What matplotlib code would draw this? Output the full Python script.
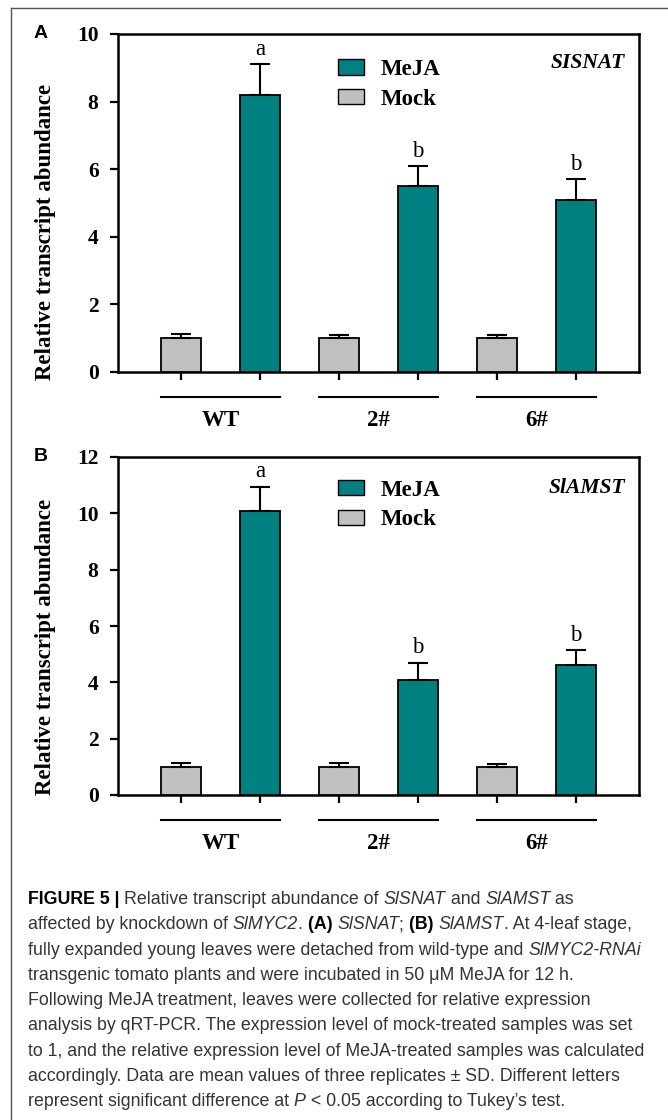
import numpy as np
import matplotlib
matplotlib.use('Agg')
import matplotlib.pyplot as plt
from matplotlib.patches import Patch
from matplotlib.lines import Line2D

# data
groups = ['WT', '2#', '6#']

mock_a = [1.0, 1.0, 1.0]
mock_a_err = [0.12, 0.09, 0.10]
meja_a = [8.2, 5.5, 5.1]
meja_a_err = [0.9, 0.6, 0.6]
letters_a = ['a', 'b', 'b']

mock_b = [1.0, 1.0, 1.0]
mock_b_err = [0.15, 0.13, 0.10]
meja_b = [10.1, 4.1, 4.6]
meja_b_err = [0.85, 0.6, 0.55]
letters_b = ['a', 'b', 'b']

caption = [
    [('FIGURE 5 | ', 'b'), ('Relative transcript abundance of ', 'n'), ('SlSNAT', 'i'),
     (' and ', 'n'), ('SlAMST', 'i'), (' as', 'n')],
    [('affected by knockdown of ', 'n'), ('SlMYC2', 'i'), ('. ', 'n'), ('(A) ', 'b'),
     ('SlSNAT', 'i'), ('; ', 'n'), ('(B) ', 'b'), ('SlAMST', 'i'), ('. At 4-leaf stage,', 'n')],
    [('fully expanded young leaves were detached from wild-type and ', 'n'), ('SlMYC2-RNAi', 'i')],
    [('transgenic tomato plants and were incubated in 50 \u03bcM MeJA for 12 h.', 'n')],
    [('Following MeJA treatment, leaves were collected for relative expression', 'n')],
    [('analysis by qRT-PCR. The expression level of mock-treated samples was set', 'n')],
    [('to 1, and the relative expression level of MeJA-treated samples was calculated', 'n')],
    [('accordingly. Data are mean values of three replicates \u00b1 SD. Different letters', 'n')],
    [('represent significant difference at ', 'n'), ('P', 'i'), (' < 0.05 according to Tukey\u2019s test.', 'n')],
]

SERIF = 'Liberation Serif'
SANS = 'Liberation Sans'
TEAL = '#008080'
GREY = '#c0c0c0'

W, H = 668, 1120
fig = plt.figure(figsize=(W / 100, H / 100), dpi=100)


def draw_panel(rect, mock, mock_err, meja, meja_err, letters, ymax, gene, letter, ylab_y, gene_y, leg_y):
    ax = fig.add_axes(rect)
    n = len(groups)
    x_mock = np.arange(n) * 2 + 1
    x_meja = np.arange(n) * 2 + 2
    ekw = dict(ecolor='black', elinewidth=1.5, capsize=7, capthick=1.5)
    ax.bar(x_mock, mock, width=0.5, color=GREY, edgecolor='black', linewidth=1.3,
           yerr=[np.zeros(n), mock_err], error_kw=ekw, zorder=3)
    ax.bar(x_meja, meja, width=0.5, color=TEAL, edgecolor='black', linewidth=1.3,
           yerr=[np.zeros(n), meja_err], error_kw=ekw, zorder=3)
    for xi, v, e, s in zip(x_meja, meja, meja_err, letters):
        ax.annotate(s, (xi, v + e), xytext=(0, 3), textcoords='offset points',
                    ha='center', va='bottom', fontsize=16.5, family=SERIF)

    ax.set_xlim(0.2, 6.8)
    ax.set_ylim(0, ymax)
    ax.set_yticks(np.arange(0, ymax + 1, 2))
    ax.set_xticks(np.concatenate([x_mock, x_meja]))
    ax.set_xticklabels([])
    ax.tick_params(axis='both', direction='out', length=6, width=1.6, pad=8)
    for lab in ax.get_yticklabels():
        lab.set_fontfamily(SERIF)
        lab.set_fontweight('bold')
        lab.set_fontsize(15.5)
    for sp in ax.spines.values():
        sp.set_linewidth(1.8)

    # group underlines and names
    tr = ax.get_xaxis_transform()
    for i, g in enumerate(groups):
        c = (x_mock[i] + x_meja[i]) / 2
        ax.add_line(Line2D([c - 0.75, c + 0.75], [-0.074, -0.074], transform=tr,
                           color='black', lw=1.5, clip_on=False))
        ax.text(c, -0.16, g, transform=tr, ha='center', va='baseline',
                fontsize=16.5, fontweight='bold', family=SERIF)

    ax.text(-0.14, ylab_y, 'Relative transcript abundance', transform=ax.transAxes,
            rotation=90, ha='center', va='center', fontsize=16.5, fontweight='bold', family=SERIF)
    ax.text(0.973, gene_y, gene, transform=ax.transAxes, ha='right', va='baseline',
            fontsize=15.5, fontweight='bold', style='italic', family=SERIF)

    handles = [Patch(facecolor=TEAL, edgecolor='black', linewidth=1.0, label='MeJA'),
               Patch(facecolor=GREY, edgecolor='black', linewidth=1.0, label='Mock')]
    ax.legend(handles=handles, loc='upper left', bbox_to_anchor=(0.40, leg_y),
              frameon=False, borderpad=0, handlelength=1.15, handleheight=0.65,
              handletextpad=0.7, labelspacing=0.38,
              prop=dict(family=SERIF, weight='bold', size=16.5))

    top_px = H * (1 - rect[1] - rect[3])
    fig.text(41 / W, 1 - (top_px - 0.5) / H, letter, ha='center', va='center',
             fontsize=14, fontweight='bold', family=SANS)
    return ax


draw_panel([118 / W, 1 - 372 / H, 521 / W, 338 / H], mock_a, mock_a_err, meja_a, meja_a_err,
           letters_a, 10, 'SISNAT', 'A', 0.413, 0.90, 0.96)
draw_panel([118 / W, 1 - 795 / H, 521 / W, 338 / H], mock_b, mock_b_err, meja_b, meja_b_err,
           letters_b, 12, 'SlAMST', 'B', 0.438, 0.893, 0.967)

# outer frame lines (top and left)
fig.add_artist(Line2D([11 / W, 1], [1 - 8 / H, 1 - 8 / H], color='#555555', lw=1.0))
fig.add_artist(Line2D([11 / W, 11 / W], [0, 1 - 8 / H], color='#555555', lw=1.0))

# caption with mixed styles, run by run
renderer = fig.canvas.get_renderer()
cap_size = 12.8
styles = {'n': dict(color='#333333'),
          'b': dict(color='black', fontweight='bold'),
          'i': dict(color='#333333', style='italic')}


def run_width(s, st):
    t1 = fig.text(0, 0, s + '|', fontsize=cap_size, family=SANS, **styles[st])
    t2 = fig.text(0, 0, '|', fontsize=cap_size, family=SANS, **styles[st])
    w = t1.get_window_extent(renderer).width - t2.get_window_extent(renderer).width
    t1.remove()
    t2.remove()
    return w


base0 = 904
for k, line in enumerate(caption):
    x = 28.0
    y = 1 - (base0 + k * 25.3) / H
    for s, st in line:
        fig.text(x / W, y, s, ha='left', va='baseline', fontsize=cap_size, family=SANS, **styles[st])
        x += run_width(s, st)

fig.savefig('out.png', dpi=100)
